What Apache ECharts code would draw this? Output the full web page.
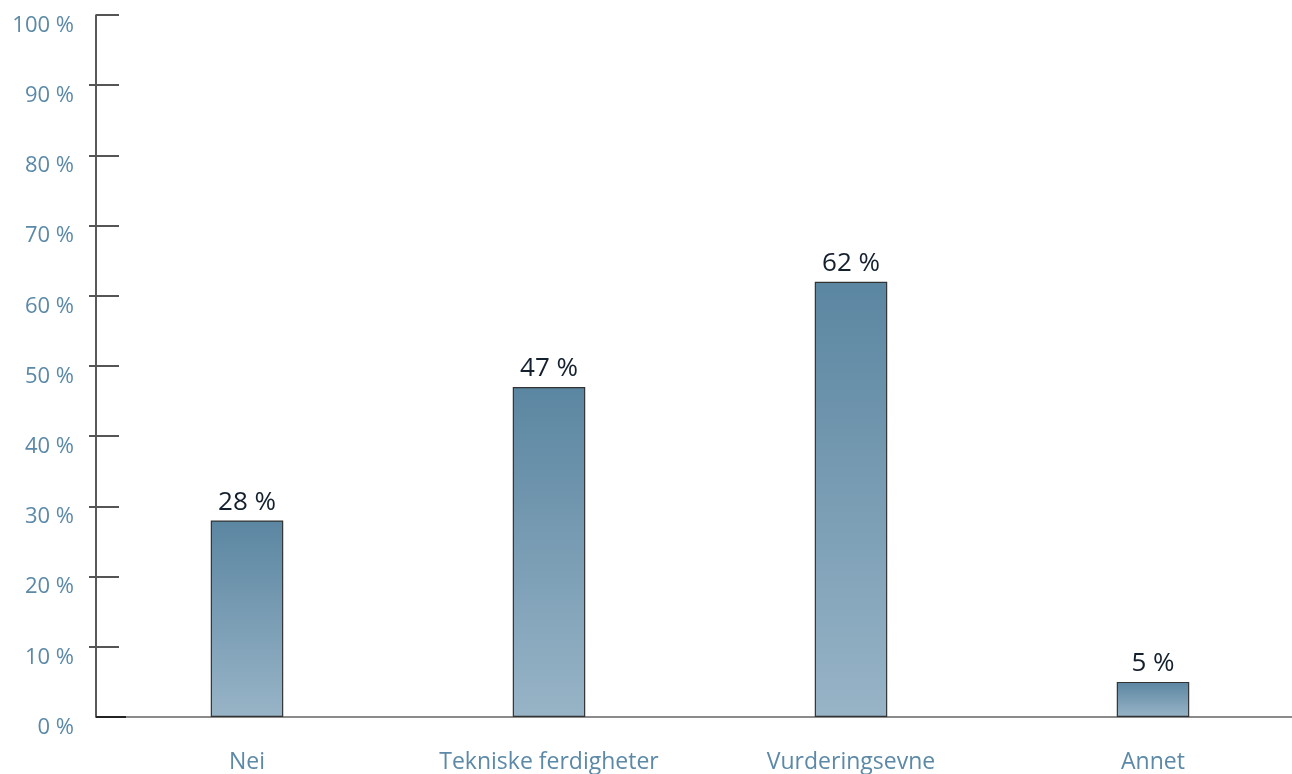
<!DOCTYPE html>
<html>
<head>
<meta charset="utf-8">
<script src="https://cdn.jsdelivr.net/npm/echarts@6/dist/echarts.min.js"></script>
<style>
html,body{margin:0;padding:0;background:#fff;}
#chart{width:1292px;height:774px;}
</style>
</head>
<body>
<div id="chart"></div>
<script>
const categories = ["Nei", "Tekniske ferdigheter", "Vurderingsevne", "Annet"];
const values = [28, 47, 62, 5];
const yTicks = [0, 10, 20, 30, 40, 50, 60, 70, 80, 90, 100];

const labelColor = '#5b89a7';
const font = '"Open Sans", "Noto Sans", sans-serif';

const chart = echarts.init(document.getElementById('chart'));
const baseY = {
  type: 'value', min: 0, max: 100, interval: 10,
  splitLine: { show: false }
};
chart.setOption({
  animation: false,
  grid: { left: 96, right: -12, top: 15, bottom: 57, containLabel: false, outerBoundsMode: 'none' },
  xAxis: {
    type: 'category',
    data: categories,
    axisLine: { lineStyle: { color: '#666', width: 1.5 } },
    axisTick: { show: false },
    axisLabel: { color: labelColor, fontSize: 23, fontFamily: font, margin: 34 }
  },
  yAxis: [
    Object.assign({}, baseY, {
      axisLine: { show: true, lineStyle: { color: '#222', width: 1.5 } },
      axisTick: { show: true, inside: true, length: 23, lineStyle: { color: '#555', width: 2 } },
      axisLabel: {
        color: labelColor, fontSize: 22, fontFamily: font, margin: 22,
        verticalAlign: 'top', lineHeight: 21,
        formatter: v => yTicks.includes(v) ? v + ' %' : ''
      }
    }),
    Object.assign({}, baseY, {
      position: 'left',
      axisLine: { show: false },
      axisTick: { show: true, inside: false, length: 7, customValues: [10, 20, 30, 40, 50, 60, 70, 80, 90], lineStyle: { color: '#555', width: 2 } },
      axisLabel: { show: false }
    }),
    Object.assign({}, baseY, {
      position: 'left',
      axisLine: { show: false },
      axisTick: { show: true, inside: true, length: 30, customValues: [0], lineStyle: { color: '#222', width: 2 } },
      axisLabel: { show: false }
    })
  ],
  series: [{
    type: 'bar',
    data: values,
    barWidth: '24%',
    itemStyle: {
      borderColor: '#333',
      borderWidth: 1.2,
      color: new echarts.graphic.LinearGradient(0, 0, 0, 1, [
        { offset: 0, color: '#5b86a1' },
        { offset: 1, color: '#98b4c7' }
      ])
    },
    label: {
      show: true, position: 'top', distance: 5, lineHeight: 26,
      color: '#14202e', fontSize: 26, fontFamily: font,
      formatter: p => p.value + ' %'
    }
  }]
});
</script>
</body>
</html>
